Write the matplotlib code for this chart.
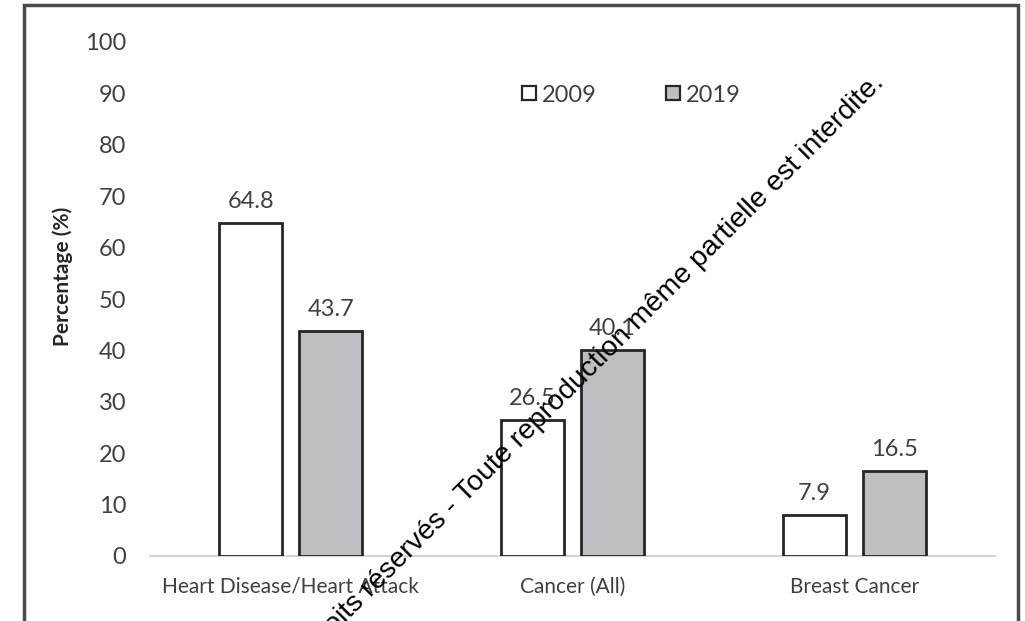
import matplotlib
matplotlib.use("Agg")
import matplotlib.pyplot as plt
from matplotlib.patches import Rectangle
from matplotlib.lines import Line2D
import numpy as np

categories = ["Heart Disease/Heart Attack", "Cancer (All)", "Breast Cancer"]
series_names = ["2009", "2019"]
values_2009 = [64.8, 26.5, 7.9]
values_2019 = [43.7, 40.1, 16.5]
y_ticks = [0, 10, 20, 30, 40, 50, 60, 70, 80, 90, 100]
y_label = "Percentage (%)"
notice = "Droits réservés - Toute reproduction même partielle est interdite."

plt.rcParams['font.family'] = ['Lato', 'DejaVu Sans']

W, H = 1025, 621
fig = plt.figure(figsize=(W / 100, H / 100), dpi=100)
fig.patch.set_facecolor('white')

# plot area in pixel terms
left, right, top, bottom = 150, 995, 42, 556
ax = fig.add_axes([left / W, 1 - bottom / H, (right - left) / W, (bottom - top) / H])

text_col = '#404040'
edge_col = '#262626'
fill_2019 = '#bfbfc3'

x = np.arange(len(categories))
width = 0.223
offset = 0.142

bars_a = ax.bar(x - offset, values_2009, width, color='white', edgecolor=edge_col, linewidth=2, zorder=3)
bars_b = ax.bar(x + offset, values_2019, width, color=fill_2019, edgecolor=edge_col, linewidth=2, zorder=3)

for bars, vals in ((bars_a, values_2009), (bars_b, values_2019)):
    for rect, v in zip(bars, vals):
        ax.annotate(f"{v}", (rect.get_x() + rect.get_width() / 2, v),
                    xytext=(0, 8), textcoords='offset points',
                    ha='center', va='bottom', fontsize=17, color=text_col)

ax.set_xlim(-0.5, 2.5)
ax.set_ylim(0, 100)
ax.set_yticks(y_ticks)
ax.set_yticklabels([str(t) for t in y_ticks], fontsize=17, color=text_col)
ax.set_xticks(x)
ax.set_xticklabels(categories, fontsize=15, color=text_col)
ax.tick_params(axis='both', length=0)
ax.tick_params(axis='y', pad=17)
ax.tick_params(axis='x', pad=15)

for side in ('left', 'right', 'top'):
    ax.spines[side].set_visible(False)
ax.spines['bottom'].set_color('#d4d4d4')
ax.spines['bottom'].set_linewidth(1.5)
ax.patch.set_alpha(0)

fig.text(63 / W, 1 - 276 / H, y_label, rotation=90, ha='center', va='center',
         fontsize=15, fontweight='bold', color='#262626')

handles = [
    Line2D([], [], marker='s', linestyle='none', markersize=10.5,
           markerfacecolor='white', markeredgecolor=edge_col, markeredgewidth=1.6),
    Line2D([], [], marker='s', linestyle='none', markersize=10.5,
           markerfacecolor=fill_2019, markeredgecolor=edge_col, markeredgewidth=1.6),
]
fig.legend(handles, series_names, loc='center', bbox_to_anchor=(630 / W, 1 - 95 / H),
           ncol=2, frameon=False, fontsize=17, labelcolor=text_col,
           handlelength=0.8, handletextpad=0.15, columnspacing=2.8)

# outer border of the chart box
fig.patches.append(Rectangle((24 / W, -0.05), (1018 - 24) / W, 1.05 - 5 / H,
                             transform=fig.transFigure, fill=False,
                             edgecolor='#4a4a4a', linewidth=2.5))

fig.text(885 / W, 1 - 84 / H, notice, rotation=45, rotation_mode='anchor',
         ha='right', va='baseline', family=['Liberation Sans', 'DejaVu Sans'],
         fontsize=20.5, color='black')

fig.savefig('out.png', dpi=100)
